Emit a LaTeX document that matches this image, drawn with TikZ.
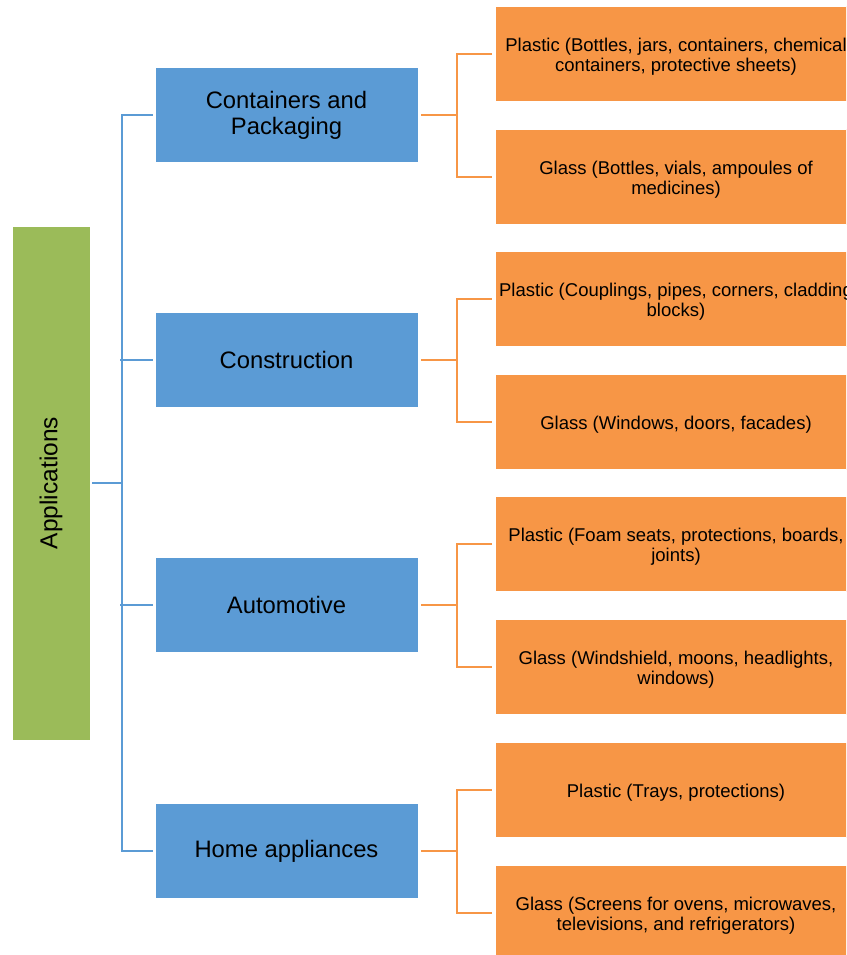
\documentclass[tikz,border=0pt]{standalone}
\usepackage{fontspec}
\setmainfont{Liberation Sans}
\usetikzlibrary{positioning}
\definecolor{appgreen}{HTML}{9BBB59}
\definecolor{catblue}{HTML}{5B9BD5}
\definecolor{itemorange}{HTML}{F79646}

\tikzset{
  rootbox/.style={rectangle,fill=appgreen,draw=white,very thin,minimum width=78pt,minimum height=514pt,inner sep=0pt,font=\fontsize{24.5}{26}\selectfont},
  catbox/.style={rectangle,fill=catblue,draw=white,very thin,minimum width=263pt,minimum height=95pt,inner sep=0pt,align=center,font=\fontsize{23.8}{26}\selectfont},
  itembox/.style={rectangle,fill=itemorange,draw=white,very thin,minimum width=362pt,minimum height=95pt,inner sep=0pt},
  itemtext/.style={align=center,inner sep=0pt,yshift=-2.5pt,font=\fontsize{18.5}{19.5}\selectfont},
  catlink/.style={draw=catblue,line width=2.6pt},
  itemlink/.style={draw=itemorange,line width=2.6pt}
}

\begin{document}
\begin{tikzpicture}[x=1pt,y=-1pt]
\useasboundingbox (0,0) rectangle (846,955);
\clip (0,0) rectangle (846,955);

\node[rootbox] (app) at (51,483) {\rotatebox{90}{Applications}};

\node[catbox] (cont) at (286.5,115) {Containers and\\Packaging};
\node[catbox] (constr) at (286.5,360) {Construction};
\node[catbox] (auto) at (286.5,605) {Automotive};
\node[catbox] (home) at (286.5,851) {Home appliances};

\node[itembox] (contP) at (676,54) {};
\node[itembox] (contG) at (676,177) {};
\node[itembox] (constrP) at (676,299) {};
\node[itembox] (constrG) at (676,422) {};
\node[itembox] (autoP) at (676,544) {};
\node[itembox] (autoG) at (676,667) {};
\node[itembox] (homeP) at (676,790) {};
\node[itembox] (homeG) at (676,913) {};

\node[itemtext] (contPt) at (contP) {Plastic (Bottles, jars, containers, chemical\\containers, protective sheets)};
\node[itemtext] (contGt) at (contG) {Glass (Bottles, vials, ampoules of\\medicines)};
\node[itemtext] (constrPt) at (constrP) {Plastic (Couplings, pipes, corners, cladding\\blocks)};
\node[itemtext] (constrGt) at (constrG) {Glass (Windows, doors, facades)};
\node[itemtext] (autoPt) at (autoP) {Plastic (Foam seats, protections, boards,\\joints)};
\node[itemtext] (autoGt) at (autoG) {Glass (Windshield, moons, headlights,\\windows)};
\node[itemtext] (homePt) at (homeP) {Plastic (Trays, protections)};
\node[itemtext] (homeGt) at (homeG) {Glass (Screens for ovens, microwaves,\\televisions, and refrigerators)};

% blue tree
\draw[catlink] (app.east) ++(2,0) -- ++(30,0) coordinate (spine);
\draw[catlink] (cont.west) ++(-2,0) -- ++(-31,0) |- ([xshift=-2pt]home.west);
\foreach \c in {constr,auto}
  \draw[catlink] ([xshift=-2pt]\c.west) -- ([xshift=-2pt]\c.west -| spine);

% orange branches
\foreach \c in {cont,constr,auto,home} {
  \draw[itemlink] ([xshift=3pt]\c.east) -- ++(36,0) coordinate (\c-fork);
  \draw[itemlink] ([xshift=-3pt]\c P.west) -| (\c-fork) |- ([xshift=-3pt]\c G.west);
}
\end{tikzpicture}
\end{document}
